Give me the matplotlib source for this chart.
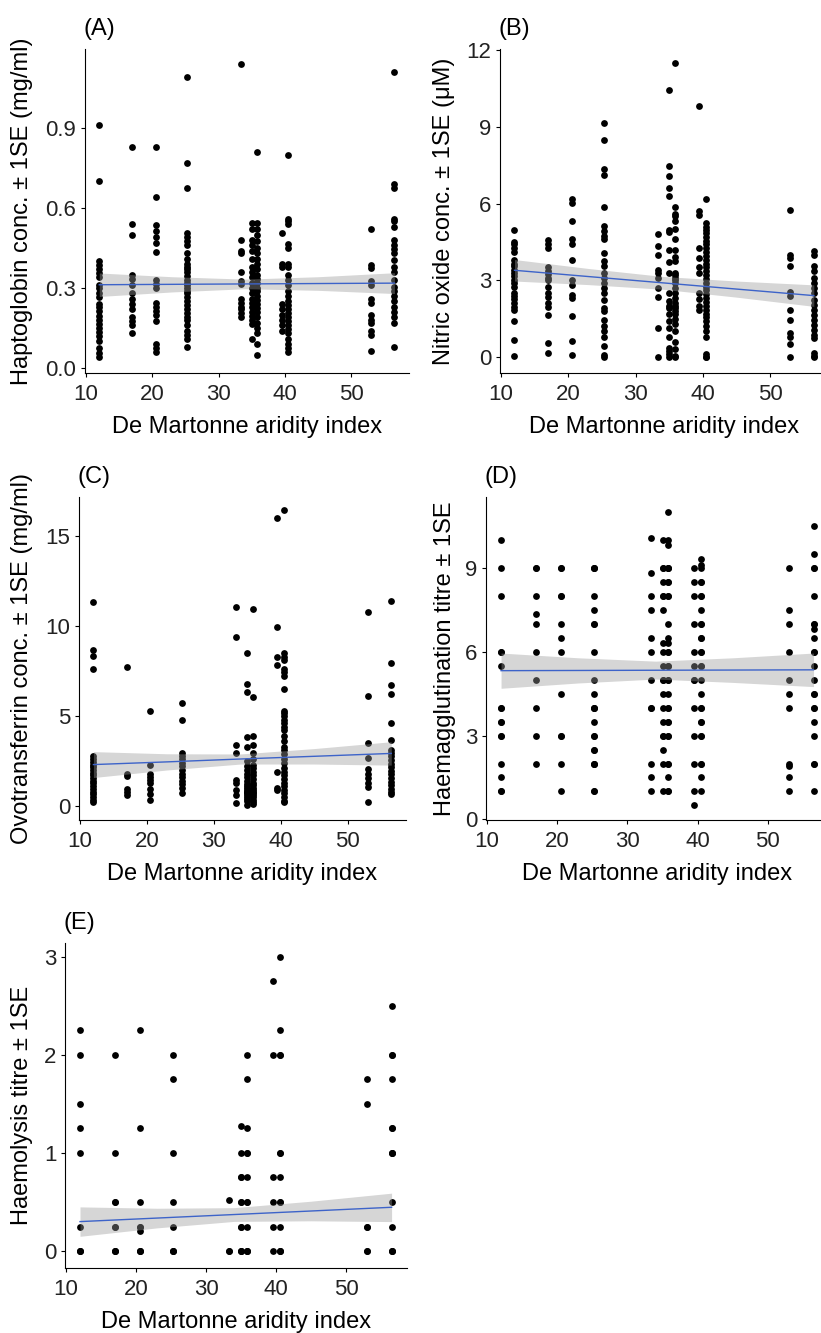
import matplotlib
matplotlib.use("Agg")
import matplotlib.pyplot as plt

plt.rcParams['font.family'] = ['Liberation Sans', 'DejaVu Sans']

# aridity index of each sampled site (column positions)
sites = [12.0, 17.0, 20.5, 25.3, 33.3, 35.0, 35.8, 39.5, 40.5, 53.0, 56.5]

# (A) Haptoglobin
hapto = [
    [0.91, 0.70, 0.40, 0.385, 0.37, 0.355, 0.34, 0.31, 0.30, 0.28, 0.265, 0.24, 0.23, 0.215, 0.195, 0.18, 0.165, 0.15, 0.135, 0.12, 0.10, 0.075, 0.055, 0.04],
    [0.83, 0.54, 0.50, 0.35, 0.335, 0.31, 0.28, 0.26, 0.24, 0.22, 0.19, 0.175, 0.16, 0.13],
    [0.83, 0.64, 0.535, 0.515, 0.49, 0.47, 0.435, 0.33, 0.315, 0.30, 0.245, 0.23, 0.215, 0.20, 0.175, 0.09, 0.075, 0.06],
    [1.09, 0.77, 0.675, 0.505, 0.49, 0.475, 0.46, 0.43, 0.41, 0.39, 0.38, 0.37, 0.36, 0.345, 0.33, 0.32, 0.31, 0.30, 0.29, 0.28, 0.265, 0.25, 0.235, 0.22, 0.205, 0.19, 0.18, 0.16, 0.14, 0.125, 0.11, 0.08],
    [1.14, 0.48, 0.44, 0.43, 0.36, 0.325, 0.315, 0.26, 0.245, 0.23, 0.22, 0.205, 0.19],
    [0.545, 0.52, 0.48, 0.46, 0.44, 0.41, 0.38, 0.36, 0.34, 0.32, 0.30, 0.28, 0.26, 0.245, 0.23, 0.21, 0.195, 0.18, 0.165, 0.11],
    [0.81, 0.545, 0.52, 0.50, 0.475, 0.45, 0.43, 0.41, 0.39, 0.37, 0.35, 0.335, 0.32, 0.30, 0.29, 0.27, 0.255, 0.24, 0.225, 0.21, 0.19, 0.17, 0.15, 0.13, 0.09, 0.05],
    [0.505, 0.39, 0.38, 0.24, 0.22, 0.20, 0.18, 0.16, 0.14],
    [0.80, 0.56, 0.55, 0.54, 0.465, 0.45, 0.39, 0.38, 0.35, 0.33, 0.31, 0.29, 0.27, 0.25, 0.235, 0.22, 0.205, 0.19, 0.175, 0.16, 0.145, 0.13, 0.11, 0.09, 0.075, 0.06],
    [0.52, 0.385, 0.375, 0.325, 0.31, 0.26, 0.245, 0.20, 0.18, 0.17, 0.14, 0.125, 0.065],
    [1.11, 0.69, 0.675, 0.56, 0.55, 0.53, 0.48, 0.46, 0.445, 0.43, 0.405, 0.38, 0.36, 0.33, 0.305, 0.29, 0.27, 0.25, 0.23, 0.21, 0.19, 0.17, 0.08],
]

# (B) Nitric oxide
nitric = [
    [4.97, 4.5, 4.4, 4.25, 4.1, 3.8, 3.65, 3.55, 3.4, 3.3, 3.15, 3.0, 2.9, 2.75, 2.5, 2.4, 2.25, 2.1, 1.95, 1.85, 1.4, 0.67, 0.04],
    [4.58, 4.4, 4.25, 3.53, 3.35, 3.25, 3.1, 3.0, 2.75, 2.5, 2.35, 2.1, 1.95, 1.65, 0.55, 0.14],
    [6.18, 6.03, 5.33, 4.62, 4.42, 3.8, 3.02, 2.83, 2.44, 2.31, 1.59, 0.61, 0.09],
    [9.13, 8.48, 7.33, 7.13, 5.87, 5.11, 4.92, 4.72, 4.6, 4.07, 3.74, 3.55, 3.29, 3.1, 2.9, 2.7, 2.5, 2.24, 1.92, 1.79, 1.46, 1.2, 1.0, 0.8, 0.44, 0.09, 0.0],
    [4.8, 4.32, 3.99, 3.4, 3.27, 3.08, 2.69, 2.36, 1.12, 0.0],
    [10.45, 7.47, 7.06, 6.6, 6.3, 4.97, 4.9, 4.2, 3.7, 3.3, 2.5, 2.2, 2.0, 1.9, 1.7, 1.4, 1.15, 0.8, 0.35, 0.25, 0.1, 0.0],
    [11.49, 5.85, 5.6, 5.5, 5.3, 5.0, 4.6, 4.2, 3.9, 3.75, 3.3, 3.2, 3.1, 3.0, 2.9, 2.7, 2.5, 2.3, 2.1, 2.0, 1.9, 1.8, 1.7, 1.5, 1.3, 1.0, 0.6, 0.3, 0.05, 0.0],
    [9.8, 5.69, 5.56, 4.25, 3.86, 3.53, 3.27, 2.5, 2.25, 2.0, 1.85],
    [6.17, 5.23, 5.1, 4.97, 4.84, 4.7, 4.55, 4.4, 4.25, 4.1, 3.95, 3.8, 3.65, 3.5, 3.35, 3.2, 3.05, 2.9, 2.75, 2.6, 2.45, 2.3, 2.15, 2.0, 1.85, 1.7, 1.55, 1.4, 1.2, 1.0, 0.8, 0.1, 0.0, 0.0],
    [5.74, 4.0, 3.87, 3.55, 2.53, 2.37, 1.85, 1.46, 0.94, 0.78, 0.52, 0.0],
    [4.13, 4.0, 3.55, 3.35, 3.09, 2.9, 2.7, 2.5, 2.24, 2.05, 1.85, 1.66, 1.46, 1.27, 1.07, 0.87, 0.74, 0.16, 0.05, 0.0],
]

# (C) Ovotransferrin
ovotrans = [
    [11.32, 8.64, 8.31, 7.6, 2.75, 2.6, 2.45, 2.3, 2.15, 2.0, 1.85, 1.7, 1.55, 1.4, 1.25, 1.1, 0.95, 0.8, 0.65, 0.5, 0.35, 0.2],
    [7.7, 1.8, 1.65, 0.97, 0.78, 0.6],
    [5.28, 2.27, 1.8, 1.62, 1.43, 1.25, 0.97, 0.69, 0.35],
    [5.7, 4.78, 2.95, 2.8, 2.6, 2.4, 2.2, 2.0, 1.8, 1.6, 1.4, 1.2, 1.0, 0.7],
    [11.04, 9.4, 3.39, 2.93, 1.44, 1.3, 0.9, 0.6, 0.15],
    [8.52, 6.8, 6.35, 3.85, 3.3, 2.5, 2.2, 2.0, 1.8, 1.6, 1.4, 1.2, 1.1, 1.0, 0.9, 0.8, 0.75, 0.7, 0.6, 0.5, 0.4, 0.3, 0.05],
    [10.94, 6.07, 3.9, 3.4, 2.95, 2.6, 2.3, 2.1, 1.9, 1.7, 1.5, 1.3, 1.15, 1.0, 0.9, 0.8, 0.7, 0.6, 0.5, 0.35, 0.2, 0.1],
    [16.0, 9.95, 8.3, 7.85, 1.9, 1.0, 0.9],
    [16.44, 8.48, 8.3, 8.1, 7.6, 7.45, 7.2, 6.5, 5.3, 5.15, 5.0, 4.8, 4.6, 4.4, 4.2, 3.9, 3.6, 3.3, 3.1, 2.9, 2.6, 2.4, 2.1, 1.9, 1.7, 1.5, 1.3, 1.1, 0.9, 0.7, 0.5, 0.3, 0.2],
    [10.78, 6.12, 3.48, 2.64, 2.08, 1.8, 1.55, 1.25, 1.05, 0.22],
    [11.38, 7.94, 6.73, 6.2, 4.59, 3.66, 3.1, 2.95, 2.75, 2.55, 2.35, 2.15, 1.95, 1.75, 1.55, 1.35, 1.15, 0.95, 0.8, 0.65],
]

# (D) Haemagglutination
haemagg = [
    [10.0, 9.0, 8.0, 6.0, 6.0, 5.5, 4.0, 4.0, 3.5, 3.5, 3.0, 3.0, 2.0, 1.5, 1.0, 1.0],
    [9.0, 9.0, 8.0, 7.33, 7.0, 6.0, 5.0, 4.0, 3.0, 2.0],
    [9.0, 9.0, 8.0, 8.0, 7.0, 6.5, 6.0, 4.5, 3.0, 3.0, 2.0, 1.0],
    [9.0, 9.0, 9.0, 8.0, 7.5, 7.0, 7.0, 6.0, 5.0, 4.5, 4.0, 4.0, 4.0, 3.5, 3.0, 3.0, 2.5, 2.5, 2.0, 2.0, 2.0, 1.0, 1.0],
    [10.07, 8.8, 8.0, 7.5, 6.5, 6.0, 5.0, 4.0, 4.0, 2.0, 1.5, 1.0],
    [10.0, 9.0, 9.0, 8.5, 8.0, 8.0, 7.5, 6.3, 6.0, 5.5, 5.0, 5.0, 4.5, 4.0, 3.5, 3.0, 3.0, 2.5, 2.0, 1.0],
    [11.0, 10.0, 9.8, 9.0, 9.0, 9.0, 8.5, 8.5, 8.0, 8.0, 7.0, 6.5, 6.3, 6.0, 6.0, 5.5, 5.5, 5.0, 5.0, 4.5, 4.0, 4.0, 3.5, 3.5, 3.0, 3.0, 2.0, 2.0, 1.5, 1.0, 1.0],
    [9.0, 8.5, 8.0, 7.0, 6.0, 5.5, 5.0, 5.0, 4.0, 3.0, 2.0, 1.0, 0.5],
    [9.3, 9.1, 9.0, 8.5, 8.5, 8.0, 8.0, 7.5, 7.0, 7.0, 6.5, 6.5, 6.0, 6.0, 5.5, 5.5, 5.0, 4.5, 4.0, 4.0, 3.5, 3.5, 3.0, 3.0, 2.0, 2.0, 1.5, 1.0],
    [9.0, 7.5, 7.0, 6.0, 5.0, 4.5, 4.0, 2.0, 1.9, 1.5, 1.0],
    [10.5, 9.5, 9.0, 9.0, 8.0, 7.0, 7.0, 6.8, 6.5, 6.0, 6.0, 5.5, 5.0, 4.5, 4.5, 4.0, 4.0, 3.5, 3.0, 2.0, 2.0, 1.0],
]

# (E) Haemolysis
haemolysis = [
    [2.25, 2.0, 1.5, 1.25, 1.0, 0.25, 0.0, 0.0, 0.0],
    [2.0, 1.0, 0.5, 0.5, 0.25, 0.25, 0.0, 0.0, 0.0],
    [2.25, 1.25, 0.5, 0.25, 0.25, 0.2, 0.0, 0.0, 0.0],
    [2.0, 1.75, 1.0, 0.5, 0.25, 0.0, 0.0, 0.0],
    [0.52, 0.0, 0.0],
    [1.27, 1.0, 0.75, 0.75, 0.5, 0.5, 0.25, 0.25, 0.0, 0.0, 0.0],
    [2.0, 1.75, 1.25, 1.0, 1.0, 0.75, 0.5, 0.5, 0.25, 0.0, 0.0, 0.0],
    [2.75, 2.0, 0.75, 0.5, 0.25, 0.0],
    [3.0, 2.25, 2.0, 2.0, 1.0, 1.0, 0.75, 0.5, 0.5, 0.25, 0.0, 0.0, 0.0],
    [1.75, 1.5, 0.25, 0.25, 0.0, 0.0],
    [2.5, 2.0, 2.0, 1.75, 1.25, 1.25, 1.0, 1.0, 1.0, 0.5, 0.25, 0.0, 0.0, 0.0],
]

# fitted linear trend and its confidence band, read at these x positions
fit_x = [12.0, 23.0, 34.0, 45.0, 56.5]
hapto_fit = [0.312, 0.3135, 0.315, 0.3165, 0.318]
hapto_lo = [0.268, 0.285, 0.297, 0.291, 0.279]
hapto_hi = [0.356, 0.342, 0.333, 0.342, 0.357]
nitric_fit = [3.39, 3.145, 2.90, 2.656, 2.40]
nitric_lo = [2.97, 2.83, 2.65, 2.34, 1.98]
nitric_hi = [3.81, 3.46, 3.15, 2.97, 2.82]
ovo_fit = [2.30, 2.45, 2.61, 2.76, 2.92]
ovo_lo = [1.58, 2.00, 2.33, 2.33, 2.27]
ovo_hi = [3.02, 2.90, 2.89, 3.19, 3.57]
hagg_fit = [5.32, 5.327, 5.335, 5.342, 5.35]
hagg_lo = [4.69, 4.88, 5.02, 4.90, 4.75]
hagg_hi = [5.95, 5.78, 5.66, 5.78, 5.95]
hlys_fit = [0.30, 0.336, 0.372, 0.408, 0.446]
hlys_lo = [0.15, 0.236, 0.302, 0.308, 0.30]
hlys_hi = [0.45, 0.436, 0.442, 0.508, 0.59]

x_ticks = [10, 20, 30, 40, 50]
x_title = "De Martonne aridity index"

W, H = 821, 1333
fig = plt.figure(figsize=(W / 100, H / 100), dpi=100)

panels = [
    # letter, ylabel, data, fit, lo, hi, yticks, ytick labels, ylim, (left, right, top, bottom px), ylabel x px
    ("(A)", "Haptoglobin conc. \u00b1 1SE (mg/ml)", hapto, hapto_fit, hapto_lo, hapto_hi,
     [0, 0.3, 0.6, 0.9], ["0.0", "0.3", "0.6", "0.9"], (-0.019, 1.196), (84.7, 409, 49, 373), 22),
    ("(B)", "Nitric oxide conc. \u00b1 1SE (\u03bcM)", nitric, nitric_fit, nitric_lo, nitric_hi,
     [0, 3, 6, 9, 12], ["0", "3", "6", "9", "12"], (-0.625, 12.04), (499.7, 828.6, 49, 373), 444),
    ("(C)", "Ovotransferrin conc. \u00b1 1SE (mg/ml)", ovotrans, ovo_fit, ovo_lo, ovo_hi,
     [0, 5, 10, 15], ["0", "5", "10", "15"], (-0.78, 17.17), (78.7, 406, 497, 820), 22),
    ("(D)", "Haemagglutination titre \u00b1 1SE", haemagg, hagg_fit, hagg_lo, hagg_hi,
     [0, 3, 6, 9], ["0", "3", "6", "9"], (-0.02, 11.53), (485.6, 829, 497, 820), 445),
    ("(E)", "Haemolysis titre \u00b1 1SE", haemolysis, hlys_fit, hlys_lo, hlys_hi,
     [0, 1, 2, 3], ["0", "1", "2", "3"], (-0.173, 3.14), (64.6, 407, 943, 1268), 22),
]

TICK_FS = 16
TITLE_FS = 17

for letter, ylab, data, fit, lo, hi, yt, ytl, ylim, box, ylx in panels:
    l, r, t, b = box
    ax = fig.add_axes([l / W, 1 - b / H, (r - l) / W, (b - t) / H])
    for sx, vals in zip(sites, data):
        ax.scatter([sx] * len(vals), vals, s=24, color="black", linewidths=0, zorder=2)
    ax.fill_between(fit_x, lo, hi, color="#999999", alpha=0.4, linewidth=0, zorder=3)
    ax.plot(fit_x, fit, color="#3d63c9", linewidth=1.0, zorder=4)
    ax.set_xlim(9.8, 58.7)
    ax.set_ylim(*ylim)
    ax.set_xticks(x_ticks)
    ax.set_yticks(yt)
    ax.set_yticklabels(ytl)
    for s in ("top", "right"):
        ax.spines[s].set_visible(False)
    for s in ("left", "bottom"):
        ax.spines[s].set_linewidth(0.8)
        ax.spines[s].set_color("black")
    ax.tick_params(axis="both", labelsize=TICK_FS, length=3, width=0.8, colors="black",
                   labelcolor="#222222")
    ax.tick_params(axis="x", pad=5)
    ax.tick_params(axis="y", pad=3)
    ax.set_facecolor("none")
    # titles
    cx = (l + min(r, 829)) / 2
    fig.text(cx / W, 1 - (b + 60) / H, x_title, fontsize=TITLE_FS, ha="center", va="baseline")
    fig.text(ylx / W, 1 - ((t + b) / 2) / H, ylab, fontsize=TITLE_FS, rotation=90,
             ha="center", va="center")
    fig.text((l - 1.5) / W, 1 - (t - 14) / H, letter, fontsize=TITLE_FS, ha="left", va="baseline")

fig.savefig("out.png", dpi=100, facecolor="white")
